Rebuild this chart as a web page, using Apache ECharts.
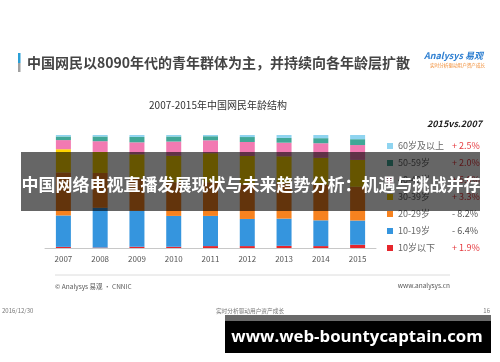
<!DOCTYPE html>
<html><head><meta charset="utf-8">
<script src="https://cdn.jsdelivr.net/npm/echarts@6/dist/echarts.min.js"></script>
<style>html,body{margin:0;padding:0;background:#fff}#c{width:500px;height:362px}</style>
</head><body><div id="c"></div>
<script>
const years = ['2007','2008','2009','2010','2011','2012','2013','2014','2015'];
const ageUnder10 = [1.0, 0.4, 1.1, 1.1, 1.7, 1.7, 1.9, 1.7, 2.9];
const age10_19  = [27.8, 35.2, 31.8, 27.3, 26.7, 24.0, 24.1, 22.8, 21.4];
const age20_29  = [38.1, 30.8, 28.6, 29.8, 29.8, 30.4, 31.2, 31.5, 29.9];
const age30_39  = [20.5, 18.6, 21.4, 23.4, 25.7, 25.3, 23.9, 23.8, 23.8];
const age40_49  = [8.1, 9.5, 10.6, 12.6, 11.4, 12.4, 12.1, 12.9, 13.1];
const age50_59  = [3.2, 4.2, 4.8, 4.5, 3.6, 4.4, 4.2, 4.5, 5.2];
const age60plus = [1.4, 1.3, 1.7, 1.3, 1.1, 1.9, 2.6, 2.9, 3.9];
const seriesNames = ['10岁以下','10-19岁','20-29岁','30-39岁','40-49岁','50-59岁','60岁及以上'];
const changes = ['+ 1.9%','- 6.4%','- 8.2%','+ 3.3%','+ 5.0%','+ 2.0%','+ 2.5%'];
const colors = ['#e6262c','#3595de','#f7821f','#ffd400','#f27ab2','#41a797','#8fd4f0'];
const seriesData = [ageUnder10, age10_19, age20_29, age30_39, age40_49, age50_59, age60plus];

const FONT = '"Noto Sans CJK SC","Noto Sans",sans-serif';
const chart = echarts.init(document.getElementById('c'));
const changeMap = {};
seriesNames.forEach((n,i)=>changeMap[n]=changes[i]);

chart.setOption({
  animation:false,
  backgroundColor:'#fff',
  grid:{left:45,right:124,top:135,bottom:114},
  xAxis:{type:'category',data:years,
    axisLine:{lineStyle:{color:'#c8c8c8'}},
    axisTick:{alignWithLabel:true,length:3,lineStyle:{color:'#c8c8c8'}},
    axisLabel:{fontSize:8,color:'#555',margin:7,fontFamily:FONT}},
  yAxis:{type:'value',min:0,max:100,show:false},
  legend:{orient:'vertical',left:382,top:135,itemWidth:6,itemHeight:6,itemGap:5,
    icon:'rect',
    data:seriesNames.slice().reverse(),
    formatter:function(name){const v=changeMap[name];return '{n|'+name+'}{'+(v[0]==='+'?'p':'m')+'|'+v+'}';},
    textStyle:{fontSize:9,lineHeight:12,color:'#666',fontFamily:FONT,
      rich:{n:{width:54,fontSize:9,lineHeight:12,color:'#666',fontFamily:FONT},
            p:{fontSize:9,lineHeight:12,color:'#e53a3f',fontFamily:FONT},
            m:{fontSize:9,lineHeight:12,color:'#555',fontFamily:FONT}}}},
  series:seriesNames.map((n,i)=>({name:n,type:'bar',stack:'a',barWidth:15,
    data:seriesData[i],itemStyle:{color:colors[i]}})),
  graphic:[
    {type:'rect',shape:{x:18,y:53,width:2.5,height:10},style:{fill:'#2a9fd6'}},
    {type:'rect',shape:{x:18,y:63,width:2.5,height:9},style:{fill:'#a0a0a0'}},
    {type:'text',x:27,y:63,style:{text:'中国网民以8090年代的青年群体为主，并持续向各年龄层扩散',font:'bold 14px '+FONT,fill:'#444',textVerticalAlign:'middle'}},
    {type:'text',x:424,y:56,style:{text:'Analysys 易观',font:'italic bold 9px '+FONT,fill:'#2e7fd1',textVerticalAlign:'middle'}},
    {type:'text',x:430,y:65,style:{text:'实时分析驱动用户资产成长',font:'4.6px '+FONT,fill:'#f08a30',textVerticalAlign:'middle'}},
    {type:'text',x:218,y:105,style:{text:'2007-2015年中国网民年龄结构',font:'10px '+FONT,fill:'#333',textAlign:'center',textVerticalAlign:'middle'}},
    {type:'text',x:482,y:124,style:{text:'2015vs.2007',font:'italic bold 9px '+FONT,fill:'#222',textAlign:'right',textVerticalAlign:'middle'}},
    {type:'line',shape:{x1:55,y1:275,x2:450,y2:275},style:{stroke:'#dcdcdc',lineWidth:1}},
    {type:'text',x:55,y:287,style:{text:'© Analysys 易观 · CNNIC',font:'6.5px '+FONT,fill:'#555',textVerticalAlign:'middle'}},
    {type:'text',x:450,y:286,style:{text:'www.analysys.cn',font:'6.5px '+FONT,fill:'#555',textAlign:'right',textVerticalAlign:'middle'}},
    {type:'text',x:2,y:311,style:{text:'2016/12/30',font:'6px '+FONT,fill:'#777',textVerticalAlign:'middle'}},
    {type:'text',x:250,y:311,style:{text:'实时分析驱动用户资产成长',font:'5.7px '+FONT,fill:'#777',textAlign:'center',textVerticalAlign:'middle'}},
    {type:'text',x:490,y:311,style:{text:'16',font:'6px '+FONT,fill:'#777',textAlign:'right',textVerticalAlign:'middle'}},
    {type:'rect',z:100,shape:{x:21,y:152,width:459,height:59},style:{fill:'rgba(0,0,0,0.6)'}},
    {type:'text',z:101,x:251,y:185,style:{text:'中国网络电视直播发展现状与未来趋势分析：机遇与挑战并存',font:'bold 17px '+FONT,fill:'#fff',textAlign:'center',textVerticalAlign:'middle'}},
    {type:'rect',z:100,shape:{x:225,y:315,width:266,height:6},style:{fill:'#6a6a6a'}},
    {type:'rect',z:100,shape:{x:225,y:321,width:266,height:32},style:{fill:'#000'}},
    {type:'text',z:101,x:357,y:337,style:{text:'www.web-bountycaptain.com',font:'bold 16.8px "Open Sans",sans-serif',fill:'#fff',textAlign:'center',textVerticalAlign:'middle'}}
  ]
});
</script></body></html>
